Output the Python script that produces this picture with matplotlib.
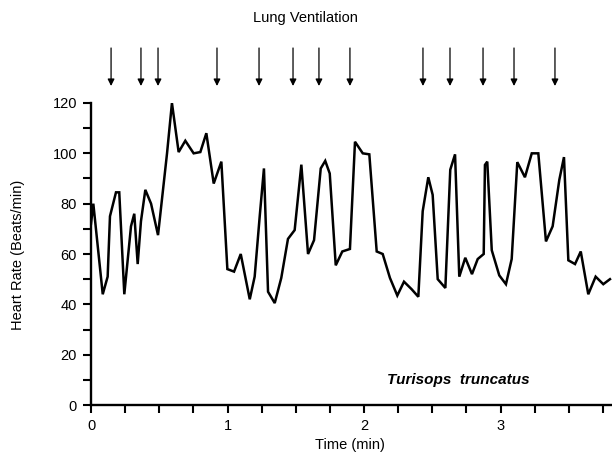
import matplotlib
matplotlib.use("Agg")
import matplotlib.pyplot as plt
from matplotlib.ticker import MultipleLocator
import matplotlib.transforms as mtransforms

plt.rcParams['font.family'] = ['Liberation Sans', 'DejaVu Sans']

# Heart rate trace (time in min, beats/min)
time_min = [0.000, 0.017, 0.086, 0.122, 0.139, 0.183, 0.207, 0.244, 0.293, 0.317,
            0.342, 0.366, 0.398, 0.440, 0.491, 0.557, 0.593, 0.642, 0.691, 0.752,
            0.801, 0.845, 0.899, 0.955, 0.999, 1.048, 1.097, 1.163, 1.199, 1.236,
            1.267, 1.297, 1.346, 1.394, 1.443, 1.492, 1.541, 1.590, 1.634, 1.683,
            1.716, 1.749, 1.793, 1.841, 1.897, 1.934, 1.991, 2.039, 2.093, 2.137,
            2.190, 2.244, 2.293, 2.349, 2.398, 2.430, 2.471, 2.503, 2.540, 2.596,
            2.632, 2.667, 2.698, 2.742, 2.791, 2.833, 2.877, 2.886, 2.903, 2.936,
            2.991, 3.040, 3.082, 3.123, 3.179, 3.229, 3.277, 3.333, 3.382, 3.431,
            3.465, 3.497, 3.546, 3.588, 3.643, 3.697, 3.753, 3.802]
heart_rate = [72, 80, 44, 51, 75, 84.5, 84.5, 44, 71, 76,
              56, 73, 85.5, 80, 67.5, 100, 120, 100.5, 105, 100,
              100.5, 108, 88, 96.7, 54, 53, 60, 42, 51, 75,
              94, 45, 40.5, 50.5, 66, 69.5, 95.5, 60, 65.5, 94,
              97, 92, 55.5, 61, 62, 104.6, 100, 99.6, 61, 60,
              50.5, 43.5, 49, 46, 43, 77, 90.5, 83.5, 50, 46.5,
              93.5, 99.6, 51, 58.5, 52, 58, 60, 95.4, 96.7, 61.5,
              51.5, 48, 58, 96.5, 90.5, 100, 100, 65, 71, 89.5,
              98.5, 57.5, 56, 61, 44, 51, 48, 50]

# Lung ventilation events (min)
ventilation_times = [0.147, 0.366, 0.491, 0.923, 1.231, 1.480, 1.670, 1.897,
                     2.432, 2.630, 2.872, 3.099, 3.399]

x_ticks = [0, 1, 2, 3]
y_ticks = [0, 20, 40, 60, 80, 100, 120]

W, H = 612, 469
fig = plt.figure(figsize=(W / 100, H / 100), dpi=100)
left, right = 91 / W, 1.0
bottom, top = (H - 405) / H, (H - 103) / H
ax = fig.add_axes([left, bottom, right - left, top - bottom])

ax.plot(time_min, heart_rate, color='black', lw=1.8, solid_joinstyle='miter')

ax.set_xlim(0, (612 - 91) / 136.5)
ax.set_ylim(0, 120)
ax.set_xticks(x_ticks)
ax.set_yticks(y_ticks)
ax.xaxis.set_minor_locator(MultipleLocator(0.25))
ax.yaxis.set_minor_locator(MultipleLocator(10))
for s in ['top', 'right']:
    ax.spines[s].set_visible(False)
for s in ['left', 'bottom']:
    ax.spines[s].set_linewidth(1.7)
ax.tick_params(which='both', direction='out', length=6, width=1.5,
               labelsize=10.5, pad=4)

fig.text(18 / W, 1 - 255 / H, 'Heart Rate (Beats/min)', rotation=90,
         ha='center', va='center', fontsize=10.5)
fig.text(350 / W, 1 - 445 / H, 'Time (min)', ha='center', va='center',
         fontsize=10.5)
fig.text(305 / W, 1 - 18 / H, 'Lung Ventilation', ha='center', va='center',
         fontsize=10.5)

ax.text(2.69, 10, 'Turisops  truncatus', fontsize=11, fontweight='bold',
        fontstyle='italic', ha='center', va='center')

trans = mtransforms.blended_transform_factory(ax.transData, ax.transAxes)
y_tip = 1 + (103 - 86) / 302
y_tail = 1 + (103 - 48) / 302
for t in ventilation_times:
    ax.annotate('', xy=(t, y_tip), xycoords=trans, xytext=(t, y_tail),
                textcoords=trans, annotation_clip=False,
                arrowprops=dict(arrowstyle='-|>', color='black', lw=0.9,
                                mutation_scale=10, shrinkA=0, shrinkB=0))

fig.savefig('out.png', dpi=100)
